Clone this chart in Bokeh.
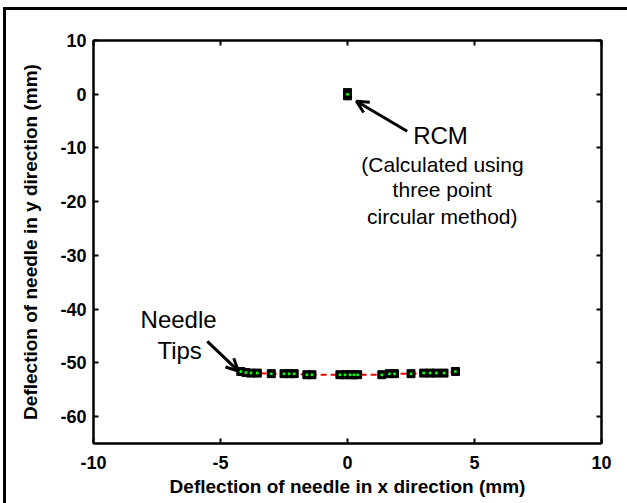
from bokeh.plotting import figure
from bokeh.models import (Range1d, LinearAxis, FixedTicker, Label, Arrow, OpenHead,
                          PrintfTickFormatter)
from bokeh.embed import file_html
from bokeh.resources import INLINE

# Data
tip_x = [-4.2, -4.0, -3.8, -3.55, -3.0, -2.5, -2.3, -2.1, -1.6, -1.4, -0.3, -0.1,
         0.1, 0.25, 0.4, 1.35, 1.65, 1.85, 2.5, 3.0, 3.25, 3.5, 3.8, 4.25]
tip_y = [-51.6, -51.8, -51.9, -51.9, -52.0, -52.0, -52.0, -52.0, -52.2, -52.2, -52.2, -52.2,
         -52.2, -52.2, -52.2, -52.2, -52.0, -52.0, -52.0, -51.9, -51.9, -51.9, -51.9, -51.6]
rcm_x = [0.0, 0.0]
rcm_y = [0.3, -0.3]
x_ticks = [-10, -5, 0, 5, 10]
y_ticks = [-60, -50, -40, -30, -20, -10, 0, 10]

FONT = "Liberation Sans"

p = figure(width=621, height=493, output_backend="svg", toolbar_location=None,
           x_range=Range1d(-10, 10), y_range=Range1d(-65, 10),
           x_axis_label="Deflection of needle in x direction (mm)",
           y_axis_label="Deflection of needle in y direction (mm)",
           frame_width=508, frame_height=403,
           min_border_left=87, min_border_right=26, min_border_top=30, min_border_bottom=60)
p.styles = {"margin-left": "3px", "margin-top": "7px",
            "border-left": "3px solid black", "border-top": "3px solid black"}
p.xgrid.visible = False
p.ygrid.visible = False
p.outline_line_color = "black"
p.outline_line_width = 2

p.add_layout(LinearAxis(), "right")
p.add_layout(LinearAxis(), "above")

for ax in p.xaxis:
    ax.ticker = FixedTicker(ticks=x_ticks)
for ax in p.yaxis:
    ax.ticker = FixedTicker(ticks=y_ticks)

for ax in p.axis:
    ax.major_tick_in = 5
    ax.major_tick_out = 0
    ax.minor_tick_line_color = None
    ax.axis_line_width = 2
    ax.major_tick_line_width = 2
    ax.axis_line_color = "black"
    ax.major_tick_line_color = "black"
    ax.formatter = PrintfTickFormatter(format="%d")
    ax.major_label_text_font = FONT
    ax.major_label_text_font_style = "bold"
    ax.major_label_text_font_size = "18px"
    ax.major_label_text_color = "black"
    ax.axis_label_text_font = FONT
    ax.axis_label_text_font_style = "bold"
    ax.axis_label_text_font_size = "19px"
    ax.axis_label_text_color = "black"

p.right[0].major_label_overrides = {t: "" for t in y_ticks}
p.above[0].major_label_overrides = {t: "" for t in x_ticks}
for ax in p.right + p.above:
    ax.major_label_standoff = 0

p.below[0].major_label_standoff = 12
p.below[0].axis_label_standoff = 4
p.left[0].major_label_standoff = 7
p.left[0].axis_label_standoff = 16

# Needle tips line + markers
p.line(tip_x, tip_y, line_color="red", line_width=2, line_dash="6 4")
p.scatter(tip_x, tip_y, marker="square", size=8, fill_color="black", line_color="black")
p.scatter(tip_x, tip_y, marker="circle", size=3, fill_color="#00ff00", line_color=None)

# RCM
p.scatter(rcm_x, rcm_y, marker="square", size=8, fill_color="black", line_color="black")
p.scatter([0], [0], marker="circle", size=3, fill_color="#00ff00", line_color=None)

# Annotations
def lab(x, y, t, size):
    p.add_layout(Label(x=x, y=y, text=t, text_align="center", text_baseline="middle",
                       text_font=FONT, text_font_size=size, text_color="black"))

lab(3.66, -7.6, "RCM", "24px")
lab(3.74, -13.0, "(Calculated using", "21px")
lab(3.73, -17.7, "three point", "21px")
lab(3.73, -22.7, "circular method)", "21px")
lab(-6.65, -41.9, "Needle", "24px")
lab(-6.61, -47.6, "Tips", "24px")

p.add_layout(Arrow(end=OpenHead(size=12, line_width=3, line_color="black"),
                   x_start=2.35, y_start=-6.9, x_end=0.35, y_end=-1.3,
                   line_width=3, line_color="black"))
p.add_layout(Arrow(end=OpenHead(size=12, line_width=3, line_color="black"),
                   x_start=-5.52, y_start=-46.0, x_end=-4.3, y_end=-51.5,
                   line_width=3, line_color="black"))

open("out.html", "w").write(file_html(p, INLINE))
